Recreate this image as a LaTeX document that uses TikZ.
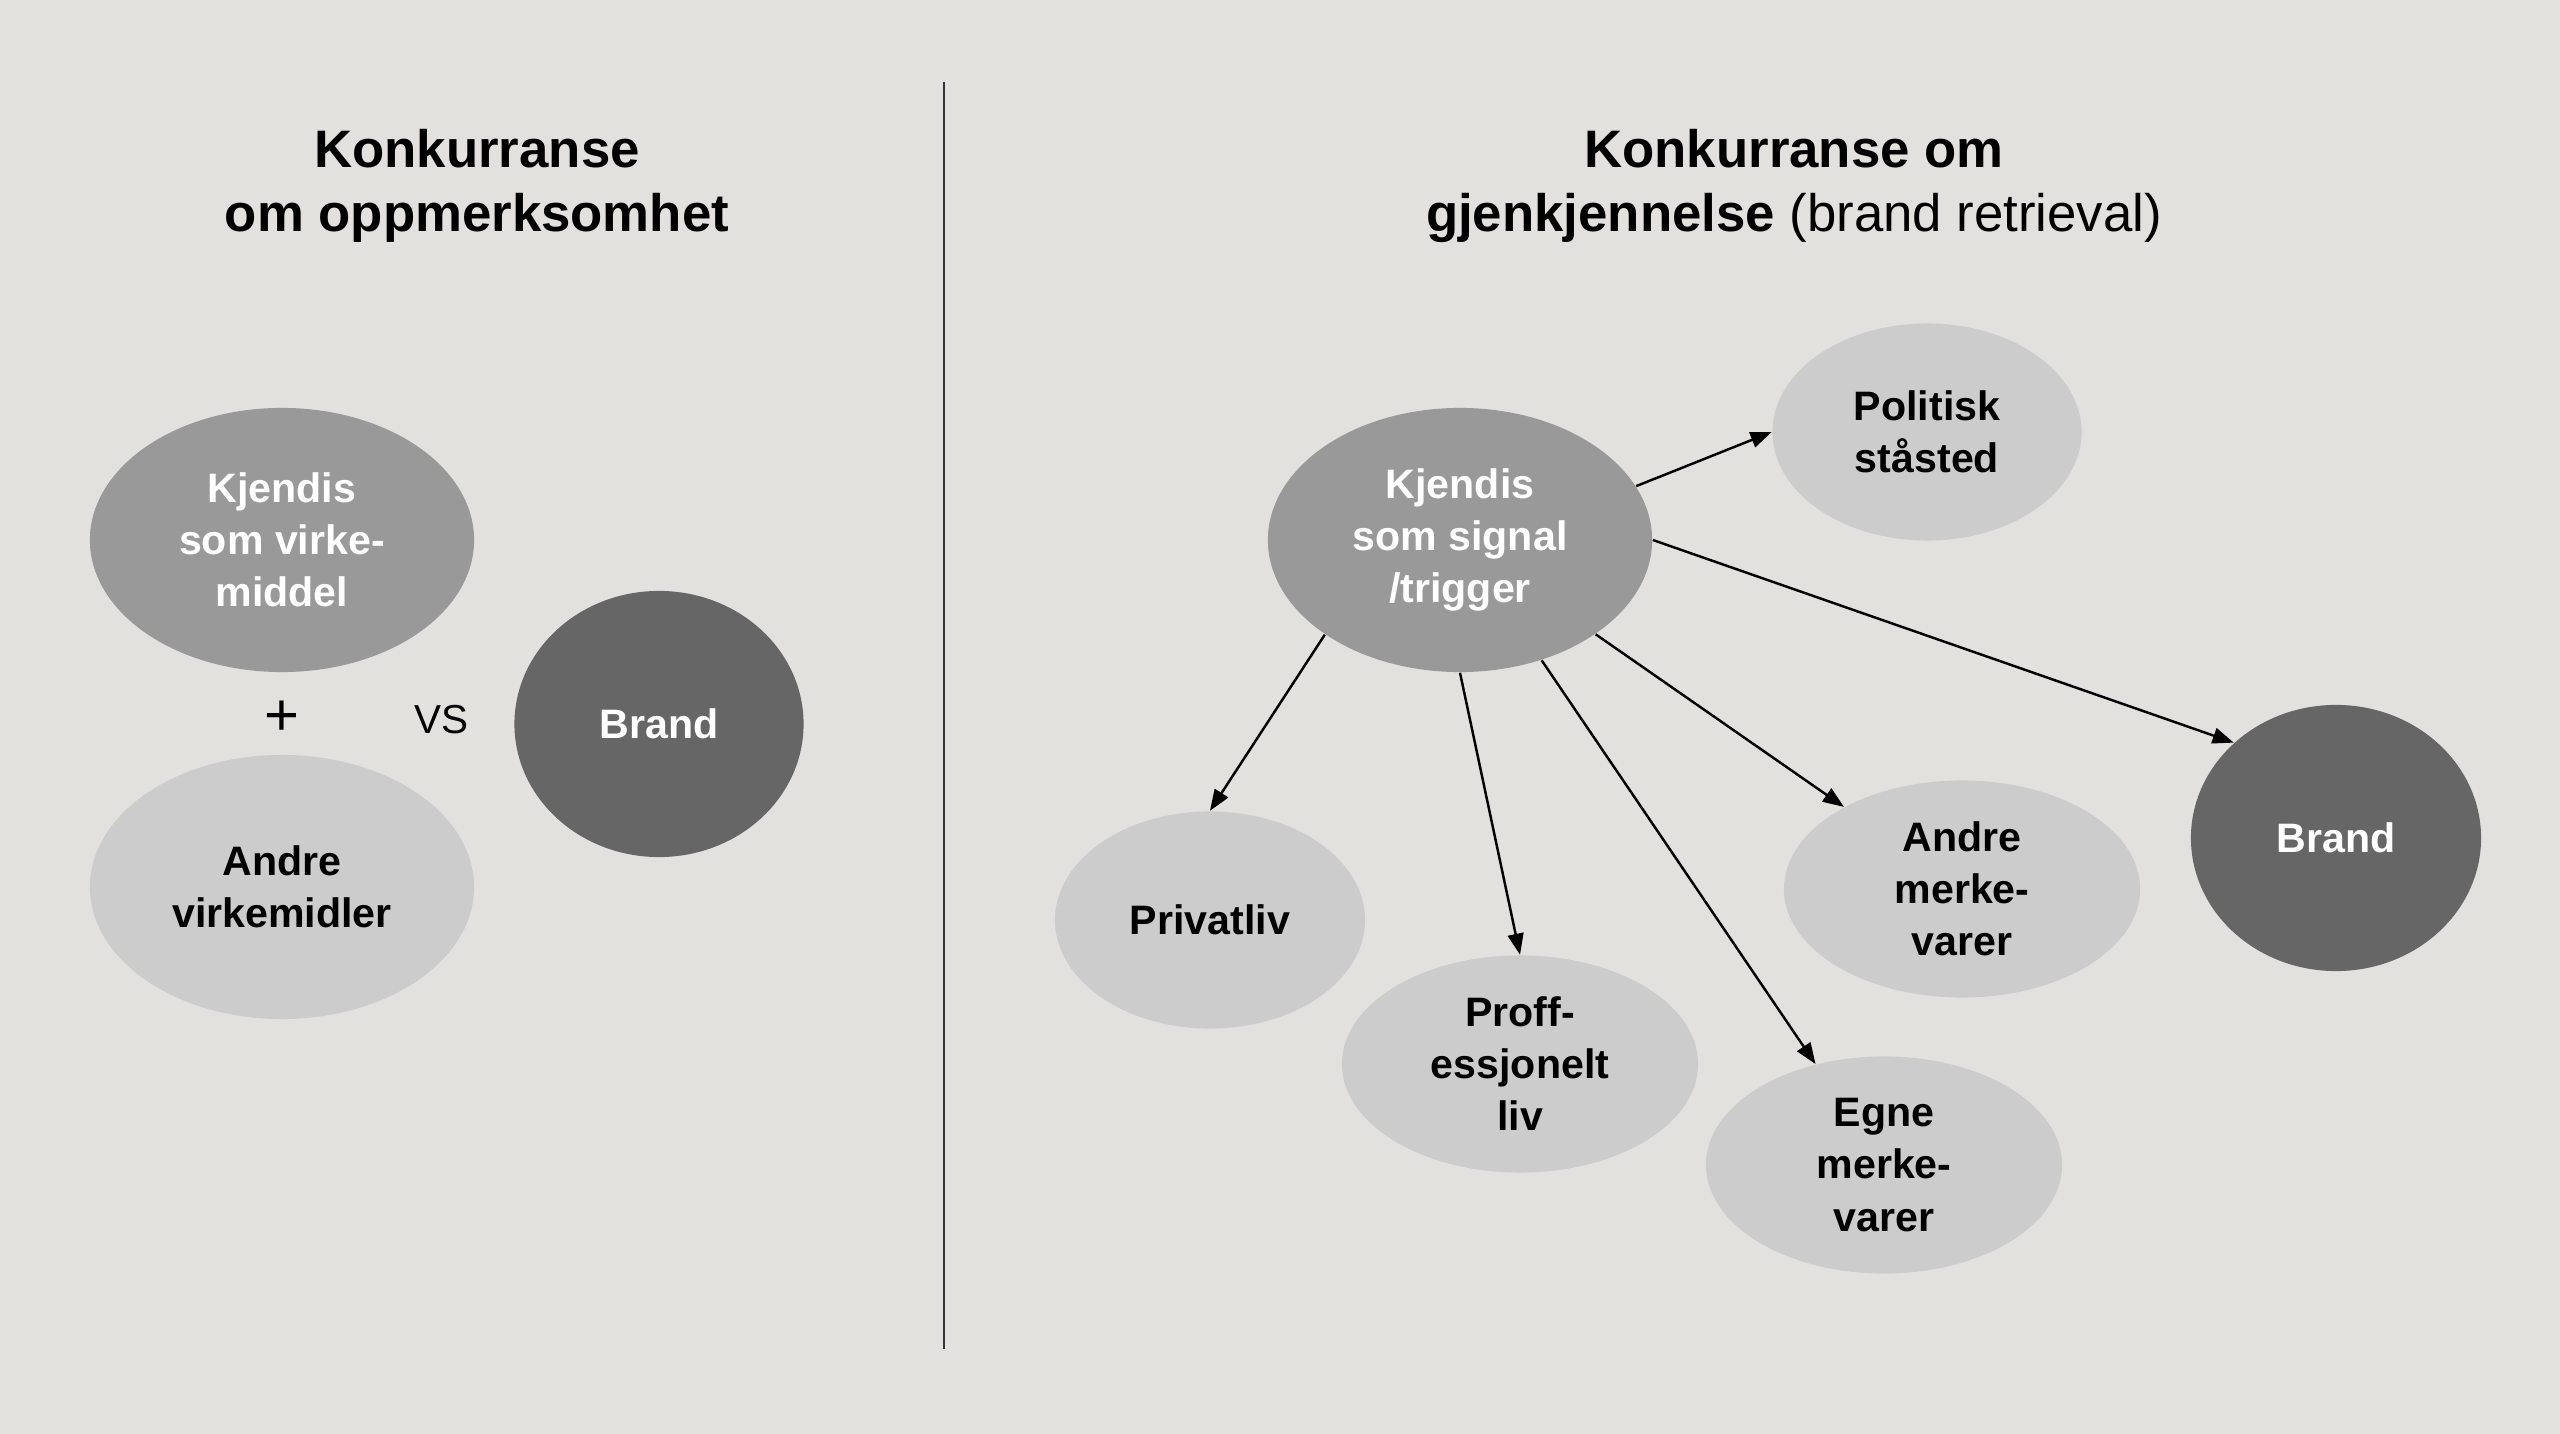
\documentclass[tikz,border=0pt]{standalone}
\usepackage{fontspec}
\setmainfont{Liberation Sans}
\usepackage{xcolor}
\definecolor{bakgrunn}{RGB}{226,225,221}
\definecolor{middels}{RGB}{153,153,153}
\definecolor{lys}{RGB}{204,204,204}
\definecolor{mork}{RGB}{102,102,102}
\usepackage{tikz}
\usetikzlibrary{shapes.geometric, arrows.meta, positioning}

\begin{document}
\begin{tikzpicture}[
    x=0.01cm, y=-0.01cm,
    blob/.style={
      ellipse, inner sep=0pt, align=center,
      font=\fontsize{11.7}{14.8}\selectfont\bfseries
    },
    midblob/.style={blob, fill=middels, text=white},
    lightblob/.style={blob, fill=lys, text=black},
    darkblob/.style={blob, fill=mork, text=white},
    title/.style={align=center, font=\fontsize{15}{18.3}\selectfont},
    arrow/.style={-{Triangle[length=6pt, width=4.5pt]}, line width=0.7pt},
    sign/.style={font=\fontsize{11.5}{14}\selectfont}
  ]

  % Background
  \fill[bakgrunn] (0,0) rectangle (2560,1434);
  \useasboundingbox (0,0) rectangle (2560,1434);

  % Divider
  \coordinate (divtop) at (944,82);
  \coordinate (divbot) at (944,1349);
  \draw[line width=0.7pt, black!80] (divtop) -- (divbot);

  % Left panel
  \node[title] (titleL) at (477,186) {\bfseries Konkurranse\\\bfseries om oppmerksomhet};

  \node[midblob, minimum width=3.84cm, minimum height=2.64cm] (kjendisL) at (282,540)
    {Kjendis\\som virke-\\middel};
  \node[lightblob, minimum width=3.84cm, minimum height=2.64cm] (virkemidler) at (282,887)
    {Andre\\virkemidler};
  \node[darkblob, minimum width=2.89cm, minimum height=2.66cm] (brandL) at (659,724)
    {Brand};

  \node[sign, font=\fontsize{17}{18}\selectfont] (plus) at (282,718) {+};
  \node[sign] (vs) at (441,720) {VS};

  % Right panel
  \node[title] (titleR) at (1794,186)
    {\bfseries Konkurranse om\\\textbf{gjenkjennelse} (brand retrieval)};

  \node[midblob, minimum width=3.84cm, minimum height=2.64cm] (signal) at (1460,540)
    {Kjendis\\som signal\\/trigger};
  \node[lightblob, minimum width=3.09cm, minimum height=2.17cm] (politisk) at (1927,432)
    {Politisk\\ståsted};
  \node[darkblob, minimum width=2.90cm, minimum height=2.66cm] (brandR) at (2336,838)
    {Brand};
  \node[lightblob, minimum width=3.56cm, minimum height=2.17cm] (andre) at (1962,889)
    {Andre\\merke-\\varer};
  \node[lightblob, minimum width=3.10cm, minimum height=2.17cm] (privat) at (1210,920)
    {Privatliv};
  \node[lightblob, minimum width=3.56cm, minimum height=2.17cm] (proff) at (1520,1064)
    {Proff-\\essjonelt\\liv};
  \node[lightblob, minimum width=3.56cm, minimum height=2.17cm] (egne) at (1884,1165)
    {Egne\\merke-\\varer};

  % Arrows
  \draw[arrow] (signal.17)    -- (politisk.west);
  \draw[arrow] (signal.east)  -- (brandR.137);
  \draw[arrow] (signal)       -- (andre);
  \draw[arrow] (signal)       -- (egne);
  \draw[arrow] (signal.south) -- (proff.north);
  \draw[arrow] (signal.215)   -- (privat.north);

\end{tikzpicture}
\end{document}
